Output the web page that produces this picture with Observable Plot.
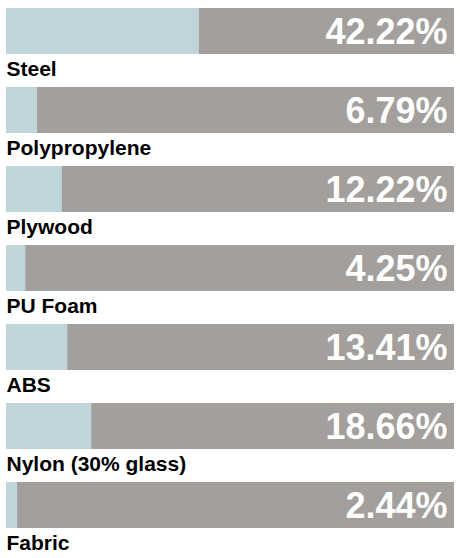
<!DOCTYPE html>
<html><head><meta charset="utf-8">
<script src="https://cdn.jsdelivr.net/npm/d3@7"></script>
<script src="https://cdn.jsdelivr.net/npm/@observablehq/plot@0.6"></script>
<style>body{margin:0;background:#fff}</style>
</head><body><div id="chart"></div>
<script>
const materials = ["Steel","Polypropylene","Plywood","PU Foam","ABS","Nylon (30% glass)","Fabric"];
const shares = [42.22,6.79,12.22,4.25,13.41,18.66,2.44];
const data = materials.map((m,i)=>({material:m, share:shares[i]}));
const chart = Plot.plot({
  width:460, height:558,
  marginLeft:6, marginRight:-3, marginTop:7, marginBottom:29,
  x:{domain:[0,100], axis:null},
  y:{domain:materials, axis:null, paddingInner:0.42, paddingOuter:0},
  style:{fontFamily:"'Liberation Sans', Arial, Helvetica, sans-serif", background:"#fff"},
  marks:[
    Plot.barX(data,{x1:0,x2:100,y:"material",fill:"#a39f9d",insetRight:9}),
    Plot.barX(data,{x1:0,x2:"share",y:"material",fill:"#bfd5d9"}),
    Plot.text(data,{x:100,y:"material",text:d=>d.share.toFixed(2)+"%",textAnchor:"end",dx:-16,dy:1,fill:"white",fontSize:36,fontWeight:"bold"}),
    Plot.text(data,{x:0,y:"material",text:"material",textAnchor:"start",lineAnchor:"bottom",dy:44,fontSize:21,fontWeight:"bold",fill:"black"})
  ]
});
document.getElementById("chart").appendChild(chart);
</script>
</body></html>
